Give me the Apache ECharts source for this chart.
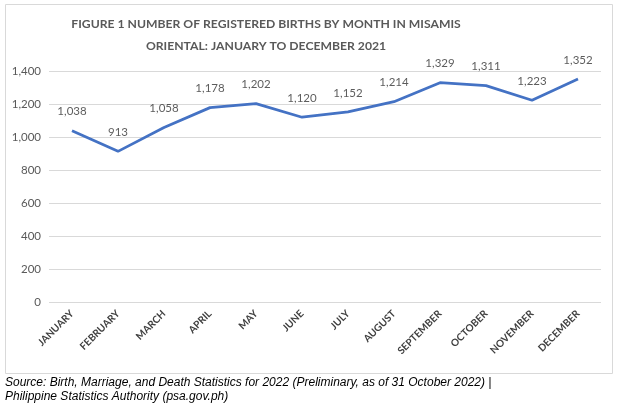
<!DOCTYPE html>
<html><head><meta charset="utf-8">
<script src="https://cdn.jsdelivr.net/npm/echarts@6/dist/echarts.min.js"></script>
<style>html,body{margin:0;padding:0;background:#fff}#c{width:620px;height:408px}</style>
</head><body><div id="c"></div>
<script>
const months = ['JANUARY','FEBRUARY','MARCH','APRIL','MAY','JUNE','JULY','AUGUST','SEPTEMBER','OCTOBER','NOVEMBER','DECEMBER'];
const births = [1038, 913, 1058, 1178, 1202, 1120, 1152, 1214, 1329, 1311, 1223, 1352];
const titleLines = ['FIGURE 1 NUMBER OF REGISTERED BIRTHS BY MONTH IN MISAMIS', 'ORIENTAL: JANUARY TO DECEMBER 2021'];
const sourceLines = ['Source: Birth, Marriage, and Death Statistics for 2022 (Preliminary, as of 31 October 2022) |', 'Philippine Statistics Authority (psa.gov.ph)'];

const chart = echarts.init(document.getElementById('c'), null, {renderer:'canvas'});
const fmt = v => v.toLocaleString('en-US');
chart.setOption({
  animation: false,
  graphic: [
    {type:'rect', shape:{x:5.5,y:4.5,width:607,height:369}, style:{fill:'none', stroke:'#d9d9d9', lineWidth:1}, z:-1},
    {type:'text', left:5, top:376, style:{text: sourceLines.join('\n'), font:'italic 12px "Liberation Sans", Arial', fill:'#000', lineHeight:14}}
  ],
  title: {
    text: titleLines.join('\n'),
    left: 261, top: 8, textAlign: 'center',
    textStyle: {fontFamily:'Lato', fontWeight:'bold', fontSize:12.2, color:'#595959', lineHeight:22}
  },
  grid: {left:49, right:19, top:71, bottom:106, containLabel:false},
  xAxis: {
    type:'category', data: months, boundaryGap:true,
    axisLine:{show:false}, axisTick:{show:false},
    axisLabel:{rotate:45, color:'#404040', fontFamily:'Lato', fontSize:10, fontWeight:'bold', margin:10, interval:0}
  },
  yAxis: {
    type:'value', min:0, max:1400, interval:200,
    axisLine:{show:false}, axisTick:{show:false},
    splitLine:{lineStyle:{color:'#d9d9d9', width:1}},
    axisLabel:{color:'#595959', fontFamily:'Lato', fontSize:11.5, margin:8, formatter: fmt}
  },
  series: [{
    type:'line', data: births, symbol:'none',
    lineStyle:{color:'#4472C4', width:2.75}
  }, {
    type:'scatter', data: births, symbolSize:2,
    itemStyle:{color:'rgba(0,0,0,0)'},
    silent:true,
    labelLayout:{hideOverlap:false},
    label:{show:true, position:'top', distance:12, color:'#333333', fontFamily:'Lato', fontSize:11.5, formatter: p => fmt(p.value)}
  }]
});
</script></body></html>
